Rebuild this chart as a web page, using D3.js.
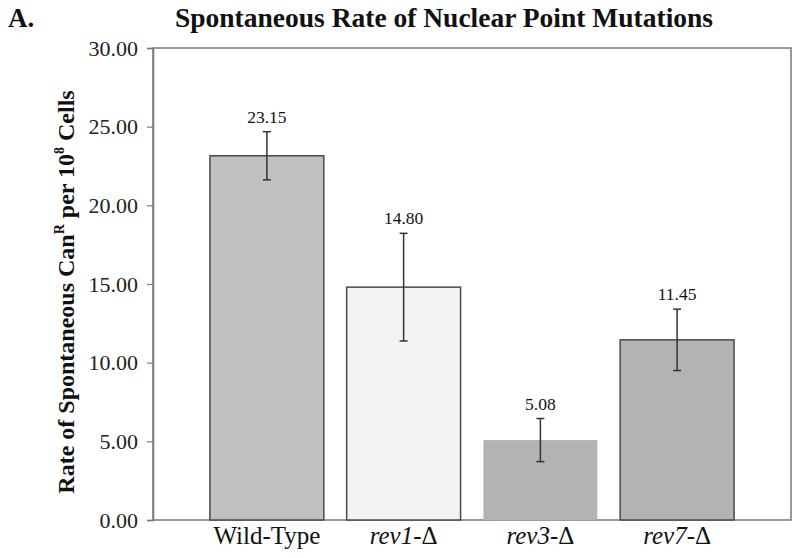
<!DOCTYPE html>
<html><head><meta charset="utf-8">
<script src="https://cdn.jsdelivr.net/npm/d3@7"></script>
<style>body{margin:0;background:#fff}svg{display:block}</style>
</head><body>
<svg id="c" width="800" height="558"></svg>
<script>
const categories = ["Wild-Type", "rev1", "rev3", "rev7"];
const italicPart = [false, true, true, true];
const values = [23.15, 14.80, 5.08, 11.45];
const errors = [1.53, 3.42, 1.37, 1.95];
const barColors = ["#c0c0c0", "#f3f3f3", "#b3b3b3", "#b3b3b3"];
const barStroke = [true, true, false, true];
const yTicks = [0, 5, 10, 15, 20, 25, 30];

const svg = d3.select("#c");
const L = 153, R = 791, T = 48, B = 520;
const font = "'Liberation Serif', 'Times New Roman', serif";

const x = d3.scaleBand().domain(categories).range([198.5, 745.5]).paddingInner(0.167).paddingOuter(0.0835);
const y = d3.scaleLinear().domain([0, 30]).range([B, T]);

// frame
svg.append("rect").attr("x", L).attr("y", T).attr("width", R - L).attr("height", B - T)
  .attr("fill", "none").attr("stroke", "#7a7a7a").attr("stroke-width", 1.5);

// y axis
const ya = svg.append("g").attr("transform", `translate(${L},0)`)
  .call(d3.axisLeft(y).tickValues(yTicks).tickFormat(d3.format(".2f")).tickSize(6).tickPadding(9));
ya.select(".domain").attr("stroke", "#7a7a7a").attr("stroke-width", 1.5);
ya.selectAll(".tick line").attr("stroke", "#7a7a7a").attr("stroke-width", 1.2);
ya.selectAll(".tick text").attr("font-family", font).attr("font-size", 22).attr("fill", "#222");

// bars
svg.selectAll("rect.bar").data(values).join("rect").attr("class", "bar")
  .attr("x", (d, i) => x(categories[i]))
  .attr("y", d => y(d))
  .attr("width", x.bandwidth())
  .attr("height", d => B - y(d))
  .attr("fill", (d, i) => barColors[i])
  .attr("stroke", (d, i) => barStroke[i] ? "#4a4a4a" : "none")
  .attr("stroke-width", 1.5);

// error bars
const eb = svg.append("g").attr("stroke", "#333").attr("stroke-width", 1.5);
values.forEach((v, i) => {
  const cx = x(categories[i]) + x.bandwidth() / 2;
  const t = y(v + errors[i]), b = y(v - errors[i]);
  eb.append("line").attr("x1", cx).attr("x2", cx).attr("y1", t).attr("y2", b);
  eb.append("line").attr("x1", cx - 4).attr("x2", cx + 4).attr("y1", t).attr("y2", t);
  eb.append("line").attr("x1", cx - 4).attr("x2", cx + 4).attr("y1", b).attr("y2", b);
});

// value labels
svg.selectAll("text.val").data(values).join("text").attr("class", "val")
  .attr("x", (d, i) => x(categories[i]) + x.bandwidth() / 2)
  .attr("y", (d, i) => y(d + errors[i]) - 9)
  .attr("text-anchor", "middle").attr("font-family", font).attr("font-size", 17.5).attr("fill", "#111")
  .text(d => d.toFixed(2));

// category labels
categories.forEach((c, i) => {
  const t = svg.append("text")
    .attr("x", x(c) + x.bandwidth() / 2).attr("y", 544)
    .attr("text-anchor", "middle").attr("font-family", font).attr("font-size", 25).attr("fill", "#111");
  if (italicPart[i]) {
    t.append("tspan").attr("font-style", "italic").text(c);
    t.append("tspan").text("-\u0394");
  } else {
    t.text(c);
  }
});

// y title
const yt = svg.append("text")
  .attr("transform", `translate(74,${292}) rotate(-90)`)
  .attr("text-anchor", "middle").attr("font-family", font).attr("font-size", 24)
  .attr("font-weight", "bold").attr("fill", "#111");
yt.append("tspan").text("Rate of Spontaneous Can");
yt.append("tspan").attr("font-size", 14).attr("dy", -10).text("R");
yt.append("tspan").attr("dy", 10).text(" per 10");
yt.append("tspan").attr("font-size", 14).attr("dy", -10).text("8");
yt.append("tspan").attr("dy", 10).text(" Cells");

// title
svg.append("text").attr("x", 444).attr("y", 27).attr("text-anchor", "middle")
  .attr("font-family", font).attr("font-size", 27.5).attr("font-weight", "bold").attr("fill", "#111")
  .text("Spontaneous Rate of Nuclear Point Mutations");
svg.append("text").attr("x", 8).attr("y", 27)
  .attr("font-family", font).attr("font-size", 27).attr("font-weight", "bold").attr("fill", "#111")
  .text("A.");
</script>
</body></html>
